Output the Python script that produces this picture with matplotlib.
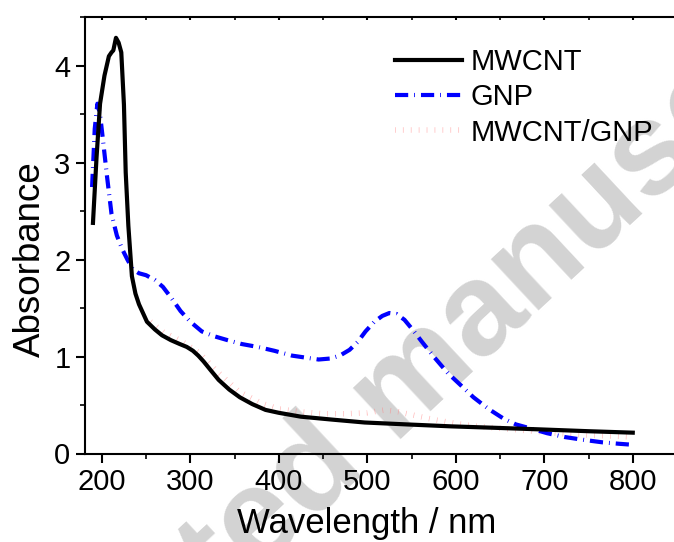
import numpy as np
import matplotlib.pyplot as plt
from matplotlib.ticker import MultipleLocator

plt.rcParams['font.family'] = ['Liberation Sans', 'DejaVu Sans']
plt.rcParams['lines.scale_dashes'] = False

# MWCNT spectrum
wl_mwcnt = [190, 194, 198, 203, 208, 211, 213, 216, 219, 222, 225, 227, 230, 234, 238, 242, 251, 260,
            268, 278, 288, 296, 303, 309, 315, 323, 332, 344, 356, 370, 385, 400, 425, 460, 497, 545,
            595, 645, 692, 750, 800]
abs_mwcnt = [2.38, 3.05, 3.61, 3.90, 4.10, 4.14, 4.16, 4.29, 4.24, 4.14, 3.60, 2.90, 2.35, 1.83, 1.65,
             1.54, 1.36, 1.28, 1.22, 1.17, 1.13, 1.10, 1.06, 1.01, 0.95, 0.86, 0.76, 0.66, 0.58, 0.51,
             0.45, 0.42, 0.38, 0.35, 0.32, 0.30, 0.28, 0.265, 0.25, 0.23, 0.215]

# GNP spectrum
wl_gnp = [189, 192, 195, 198, 201, 206, 211, 217, 223, 229, 235, 242, 250, 260, 269, 279, 289, 300,
          313, 327, 342, 358, 376, 395, 415, 430, 445, 458, 469, 480, 489, 498, 508, 517, 525, 533,
          542, 552, 562, 576, 591, 605, 620, 637, 654, 668, 684, 703, 723, 745, 766, 785, 800]
abs_gnp = [2.75, 3.35, 3.61, 3.50, 3.26, 2.85, 2.47, 2.25, 2.11, 2.00, 1.90, 1.86, 1.84, 1.79, 1.72,
           1.60, 1.47, 1.36, 1.26, 1.21, 1.17, 1.13, 1.10, 1.06, 1.01, 0.99, 0.97, 0.98, 1.01, 1.07,
           1.15, 1.26, 1.36, 1.42, 1.45, 1.44, 1.38, 1.27, 1.15, 0.99, 0.83, 0.71, 0.58, 0.46, 0.36,
           0.30, 0.26, 0.21, 0.17, 0.14, 0.115, 0.10, 0.09]

# MWCNT/GNP spectrum (faint, mostly hidden behind the others)
wl_mix = [255, 270, 290, 310, 330, 355, 380, 400, 425, 450, 475, 500, 520, 535, 550, 575, 600, 625,
          650, 675, 700, 725, 750, 775, 800]
abs_mix = [1.36, 1.25, 1.16, 1.04, 0.85, 0.64, 0.52, 0.46, 0.43, 0.41, 0.41, 0.42, 0.45, 0.43, 0.40,
           0.35, 0.31, 0.28, 0.26, 0.24, 0.22, 0.20, 0.19, 0.18, 0.17]

fig = plt.figure(figsize=(6.74, 5.42), dpi=100)
ax = fig.add_axes([85 / 674, 88.5 / 542, 592 / 674, 437 / 542])
ax.patch.set_alpha(0)

# watermark behind everything (pixel coords, origin bottom-left)
fig.text(400, 150, 'Accepted manuscript', transform=None, rotation=43, fontsize=94,
         fontweight='bold', color='#d3d3d3', ha='center', va='center', rotation_mode='anchor',
         zorder=-5)

ax.plot(wl_mwcnt, abs_mwcnt, color='black', lw=3, label='MWCNT', zorder=3)
ax.plot(wl_gnp, abs_gnp, color='#0000ff', lw=3, dashes=(9.5, 4.3, 0.6, 4.3), label='GNP', zorder=2)
ax.plot(wl_mix, abs_mix, color='#ff8080', lw=4, alpha=0.55, dashes=(0.5, 5.2), label='MWCNT/GNP',
        zorder=1)

ax.set_xlim(181, 850)
ax.set_ylim(0, 4.51)
ax.xaxis.set_major_locator(MultipleLocator(100))
ax.xaxis.set_minor_locator(MultipleLocator(50))
ax.yaxis.set_major_locator(MultipleLocator(1))
ax.yaxis.set_minor_locator(MultipleLocator(0.5))

for s in ax.spines.values():
    s.set_linewidth(1.5)
ax.tick_params(which='major', direction='out', length=6.5, width=1.5, labelsize=21, pad=4)
ax.tick_params(which='minor', direction='out', length=3.6, width=1.2)
ax.tick_params(axis='y', which='major', pad=4)
ax.tick_params(axis='x', which='both', top=True)
# short inward ticks on top
for t in ax.xaxis.get_major_ticks() + ax.xaxis.get_minor_ticks():
    t.tick2line.set_marker(3)
    t.tick2line.set_markersize(2)

ax.set_xlabel('Wavelength / nm', fontsize=25)
ax.set_ylabel('Absorbance', fontsize=26.5)
ax.xaxis.set_label_coords(0.476, -0.122)
ax.yaxis.set_label_coords(-0.0625, 0.445)

ax.legend(loc='upper left', bbox_to_anchor=(395 / 674, 1 - 48 / 542), bbox_transform=fig.transFigure,
          frameon=False, fontsize=21, handlelength=2.3, handletextpad=0.3, labelspacing=0.25,
          borderpad=0, borderaxespad=0)

fig.savefig('out.png', dpi=100)
